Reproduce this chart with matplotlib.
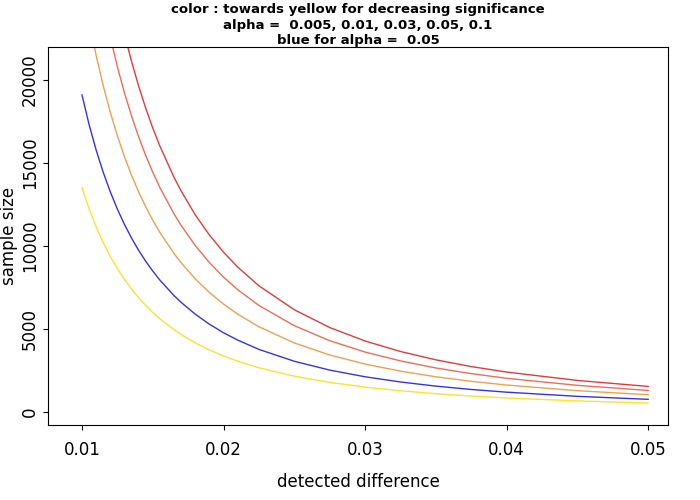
import matplotlib
matplotlib.use("Agg")
import matplotlib.pyplot as plt

d = [0.01,0.0105,0.011,0.0115,0.012,0.0125,0.013,0.0135,0.014,0.0145,0.015,0.0155,0.0165,0.017,0.018,0.019,0.02,0.021,0.0225,0.025,0.0275,0.03,0.0325,0.035,0.0375,0.04,0.045,0.05]
yellow = [13500,12245,11156,10207,9374,8640,7988,7407,6888,6421,6000,5619,4959,4671,4166,3740,3375,3062,2666,2160,1785,1500,1278,1102,960,844,667,540]
blue = [19100,17324,15784,14442,13263,12224,11301,10480,9745,9084,8488,7949,7015,6609,5894,5291,4775,4332,3772,3056,2525,2122,1809,1559,1358,1194,944,764]
orange = [26000,23582,21486,19659,18054,16640,15384,14266,13265,12366,11554,10821,9550,8996,8024,7202,6500,5897,5135,4160,3437,2889,2462,2122,1849,1625,1284,1040]
redorange = [32500,29478,26858,24573,22568,20800,19230,17833,16582,15457,14443,13527,11937,11245,10030,9003,8125,7371,6419,5200,4297,3611,3078,2652,2311,2031,1606,1300]
red = [38500,34920,31816,29110,26734,24640,22780,21125,19643,18311,17109,16024,14141,13321,11881,10665,9625,8732,7604,6160,5090,4277,3646,3142,2737,2406,1902,1540]

fig = plt.figure(figsize=(7, 5), dpi=100)
ax = fig.add_axes([48/700, 75/500, 620/700, 378/500])
for ys, c in [(red, "#E33B3B"), (redorange, "#EE6E55"), (orange, "#F0A050"), (blue, "#3535E0"), (yellow, "#FFE033")]:
    ax.plot(d, ys, color=c, lw=1)
ax.set_xlim(0.0076, 0.0514)
ax.set_ylim(-783, 21988)
ax.set_xticks([0.01, 0.02, 0.03, 0.04, 0.05])
ax.set_xticklabels(["0.01", "0.02", "0.03", "0.04", "0.05"])
ax.set_yticks([0, 5000, 10000, 15000, 20000])
ax.set_yticklabels(["0", "5000", "10000", "15000", "20000"], rotation=90, va="center")
ax.tick_params(axis="x", labelsize=12, pad=8)
ax.tick_params(axis="y", labelsize=12, pad=3)
ax.set_xlabel("detected difference", fontsize=12, labelpad=10)
ax.set_ylabel("sample size", fontsize=12, labelpad=2)
ax.set_title("color : towards yellow for decreasing significance\nalpha =  0.005, 0.01, 0.03, 0.05, 0.1\nblue for alpha =  0.05",
             fontsize=9.5, fontweight="bold", linespacing=1.25, pad=2)
fig.savefig("out.png")
